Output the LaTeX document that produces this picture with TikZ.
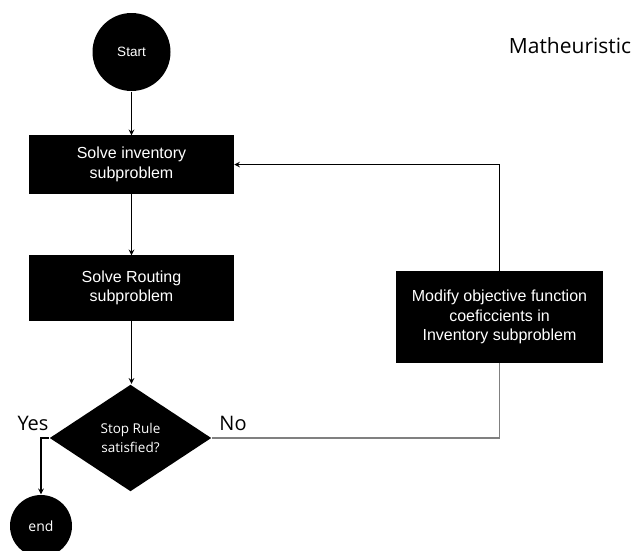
\documentclass[tikz,border=0pt]{standalone}
\usepackage{fontspec}
\setmainfont{Liberation Sans}
\newfontfamily\opensans{Open Sans}
\usetikzlibrary{arrows, shapes.geometric}

\begin{document}
\begin{tikzpicture}[
            x = 1pt, y = -1pt, % one unit per pixel, y grows downwards
            > = stealth, % arrow head style
            line width = 1.5pt % line style
        ]

        \tikzstyle{block}=[
            draw = black,
            fill = black,
            text = white,
            align = center,
            inner sep = 0pt,
            font = \fontsize{16}{19.5}\selectfont
        ]
        \tikzstyle{terminal}=[
            circle,
            fill = black,
            text = white,
            inner sep = 0pt
        ]
        \tikzstyle{decision}=[
            diamond,
            fill = black,
            text = white,
            align = center,
            inner sep = 0pt,
            font = \opensans\fontsize{13.5}{19}\selectfont
        ]
        \tikzstyle{answer}=[font = \opensans\fontsize{20}{24}\selectfont]

        \useasboundingbox (0,0) rectangle (633,550);

        \node[terminal, minimum size=78pt, font=\fontsize{13.5}{15}\selectfont] (start) at (131.5,52) {Start};
        \node[block, minimum width=204pt, minimum height=57pt] (inv) at (131.5,164.5) {Solve inventory\\subproblem};
        \node[block, minimum width=204pt, minimum height=64pt] (rout) at (131.5,288) {Solve Routing\\subproblem};
        \node[decision, minimum width=162pt, minimum height=107pt] (stop) at (130.5,438) {Stop Rule\\satisfied?};
        \node[terminal, minimum size=62pt, font=\opensans\fontsize{14}{16}\selectfont] (end) at (41,526) {end};
        \node[block, minimum width=205pt, minimum height=90pt] (modify) at (499.5,317) {Modify objective function\\coeficcients in\\Inventory subproblem};

        \node[answer] (yes) at (33,423) {Yes};
        \node[answer] (no) at (233,423) {No};
        \node[answer, font=\opensans\fontsize{21}{24}\selectfont] (title) at (570,46) {Matheuristic};

        \draw[->] (start) -- (inv);
        \draw[->] (inv) -- (inv.south |- rout.north);
        \draw[->] (rout) -- (rout.south |- stop.north);
        \draw[->] (stop.west) -| (end.north);
        \draw[gray, line width=1.2pt] (stop.east) -| (modify.south);
        \draw[->] (modify.north) |- (inv.east);

  \end{tikzpicture}
\end{document}
